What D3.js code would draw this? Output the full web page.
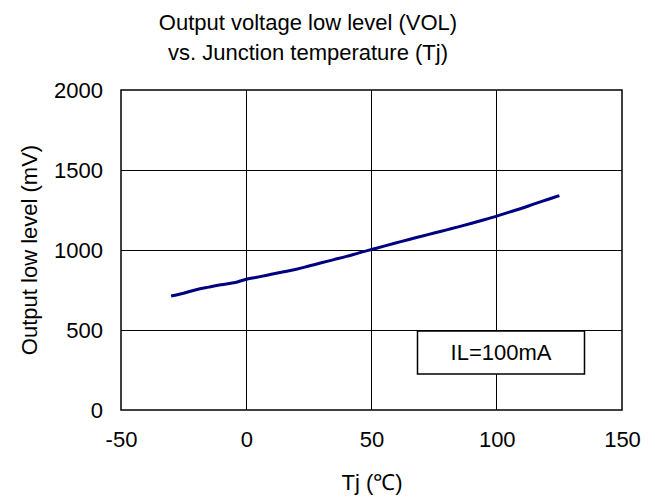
<!DOCTYPE html>
<html><head><meta charset="utf-8">
<script src="https://cdn.jsdelivr.net/npm/d3@7"></script>
<style>body{margin:0;background:#fff}svg{display:block}text{font-family:Arial,"Liberation Sans",sans-serif;fill:#000}</style>
</head><body><div id="chart"></div>
<script>
const titleLines = ["Output voltage low level (VOL)", "vs. Junction temperature (Tj)"];
const xLabel = "Tj (\u2103)";
const yLabel = "Output low level (mV)";
const legendText = "IL=100mA";
const xTicks = [-50, 0, 50, 100, 150];
const yTicks = [0, 500, 1000, 1500, 2000];
const tj = [-30,-25,-20,-15,-10,-5,0,5,10,15,20,25,30,35,40,45,50,55,60,65,70,75,80,85,90,95,100,105,110,115,120,125];
const vol = [712,730,752,768,783,795,817,832,848,864,880,900,920,940,960,982,1003,1024,1045,1066,1086,1106,1126,1146,1167,1189,1212,1237,1261,1288,1314,1340];

const W = 655, H = 497;
const m = {left:121, right:622, top:90, bottom:410};
const svg = d3.select("#chart").append("svg").attr("width", W).attr("height", H);
const x = d3.scaleLinear().domain([-50,150]).range([m.left, m.right]);
const y = d3.scaleLinear().domain([0,2000]).range([m.bottom, m.top]);

// gridlines
svg.append("g").selectAll("line").data(xTicks.slice(1,-1)).join("line")
  .attr("x1", d=>x(d)).attr("x2", d=>x(d)).attr("y1", m.top).attr("y2", m.bottom)
  .attr("stroke", "#000").attr("stroke-width", 1).attr("shape-rendering","crispEdges");
svg.append("g").selectAll("line").data(yTicks.slice(1,-1)).join("line")
  .attr("y1", d=>y(d)).attr("y2", d=>y(d)).attr("x1", m.left).attr("x2", m.right)
  .attr("stroke", "#000").attr("stroke-width", 1).attr("shape-rendering","crispEdges");

// axes (labels only)
const fs = 22;
const fmt = d => String(d);
const xAxis = svg.append("g").attr("transform", `translate(0,${m.bottom})`)
  .call(d3.axisBottom(x).tickValues(xTicks).tickSize(0).tickPadding(21).tickFormat(fmt));
xAxis.select(".domain").remove();
xAxis.selectAll("text").style("font-size", fs+"px").attr("font-family","Arial, 'Liberation Sans', sans-serif");
const yAxis = svg.append("g").attr("transform", `translate(${m.left},0)`)
  .call(d3.axisLeft(y).tickValues(yTicks).tickSize(0).tickPadding(18).tickFormat(fmt));
yAxis.select(".domain").remove();
yAxis.selectAll("text").style("font-size", fs+"px").attr("font-family","Arial, 'Liberation Sans', sans-serif");

// border
svg.append("rect").attr("x", m.left).attr("y", m.top).attr("width", m.right-m.left).attr("height", m.bottom-m.top)
  .attr("fill","none").attr("stroke","#000").attr("stroke-width",1.5);

// line
svg.append("path").datum(tj.map((t,i)=>[t, vol[i]]))
  .attr("fill","none").attr("stroke","#000080").attr("stroke-width",3).attr("stroke-linejoin","round")
  .attr("d", d3.line().x(d=>x(d[0])).y(d=>y(d[1])).curve(d3.curveMonotoneX));

// legend box
svg.append("rect").attr("x", 417.5).attr("y", 331).attr("width", 167).attr("height", 43)
  .attr("fill","#fff").attr("stroke","#000").attr("stroke-width",1.5);
svg.append("text").attr("x", 501).attr("y", 352).attr("dy","0.35em").attr("text-anchor","middle")
  .style("font-size", fs+"px").text(legendText);

// titles
svg.append("g").selectAll("text").data(titleLines).join("text")
  .attr("x", 308).attr("y", (d,i)=>30+i*30).attr("text-anchor","middle").style("font-size", fs+"px").text(d=>d);
svg.append("text").attr("x", 372).attr("y", 490).attr("text-anchor","middle").style("font-size", fs+"px").text(xLabel);
svg.append("text").attr("transform", `translate(37,250) rotate(-90)`).attr("text-anchor","middle").style("font-size", fs+"px").text(yLabel);
</script></body></html>
